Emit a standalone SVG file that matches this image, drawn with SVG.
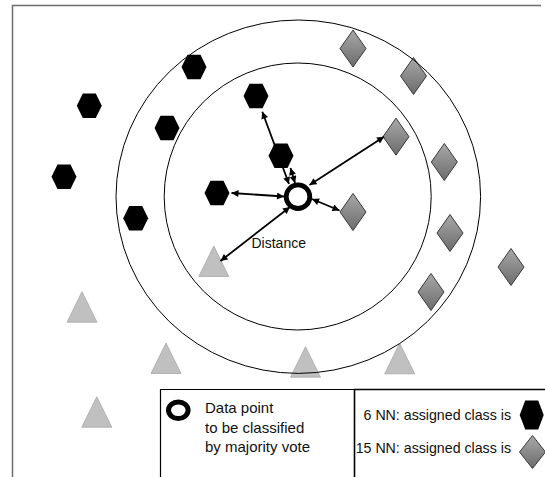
<svg xmlns="http://www.w3.org/2000/svg" xmlns:xlink="http://www.w3.org/1999/xlink" width="545" height="477" viewBox="0 0 545 477">
  <style>
    .frame { fill: none; stroke: #6e6e6e; stroke-width: 1.5; }
    .box { fill: none; stroke: #000; stroke-width: 1.2; }
    .ring { fill: none; stroke: #000; stroke-width: 1; }
    .hex { fill: #000; }
    .dia { fill: url(#diaFill); stroke: #3a3a3a; stroke-width: 1; }
    .tri { fill: #c0c0c0; stroke: #a8a8a8; stroke-width: 0.8; }
    .edge { fill: none; stroke: #000; stroke-width: 1.8; marker-start: url(#tip); marker-end: url(#tip); }
    .query { fill: #fff; stroke: #000; stroke-width: 4.8; }
    text { font-family: "Liberation Sans", Arial, sans-serif; fill: #111; }
    .lbl { font-size: 14px; }
    .leg { font-size: 15px; }
    .leg-r { font-size: 14.2px; }
  </style>
  <defs>
    <linearGradient id="diaFill" x1="0" y1="0" x2="0" y2="1">
      <stop offset="0" stop-color="#a8a8a8"/>
      <stop offset="1" stop-color="#6c6c6c"/>
    </linearGradient>
    <marker id="tip" viewBox="0 0 10 10" refX="10" refY="5" markerUnits="userSpaceOnUse" markerWidth="8" markerHeight="7" orient="auto-start-reverse">
      <path d="M0,0 L10,5 L0,10 z" fill="#000"/>
    </marker>
    <polygon id="hexShape" points="-12.5,0 -6.5,-12.25 6.5,-12.25 12.5,0 6.5,12.25 -6.5,12.25"/>
    <polygon id="diaShape" points="0,-18.5 13,0 0,18.5 -13,0"/>
    <polygon id="triShape" points="0,0 15,30.5 -15,30.5"/>
  </defs>

  <!-- outer frame (top and left edges only) -->
  <path class="frame" d="M12.5,477 V5.5 H541"/>

  <!-- class A: black hexagons -->
  <g id="hex-1" class="hex"><use xlink:href="#hexShape" x="194" y="67"/></g>
  <g id="hex-2" class="hex"><use xlink:href="#hexShape" x="89.3" y="105.7"/></g>
  <g id="hex-3" class="hex"><use xlink:href="#hexShape" x="256" y="96"/></g>
  <g id="hex-4" class="hex"><use xlink:href="#hexShape" x="167" y="128"/></g>
  <g id="hex-6" class="hex"><use xlink:href="#hexShape" x="64" y="176.7"/></g>
  <g id="hex-7" class="hex"><use xlink:href="#hexShape" x="217" y="193"/></g>
  <g id="hex-8" class="hex"><use xlink:href="#hexShape" x="135.7" y="218.3"/></g>

  <!-- class B: grey diamonds -->
  <g id="dia-1" class="dia"><use xlink:href="#diaShape" x="353" y="48.5"/></g>
  <g id="dia-2" class="dia"><use xlink:href="#diaShape" x="413.5" y="76"/></g>
  <g id="dia-3" class="dia"><use xlink:href="#diaShape" x="396" y="136.7"/></g>
  <g id="dia-4" class="dia"><use xlink:href="#diaShape" x="444.3" y="162"/></g>
  <g id="dia-5" class="dia"><use xlink:href="#diaShape" x="353" y="212"/></g>
  <g id="dia-6" class="dia"><use xlink:href="#diaShape" x="450" y="233"/></g>
  <g id="dia-7" class="dia"><use xlink:href="#diaShape" x="511" y="267"/></g>
  <g id="dia-8" class="dia"><use xlink:href="#diaShape" x="431" y="292"/></g>

  <!-- class C: light triangles -->
  <g id="tri-1" class="tri"><use xlink:href="#triShape" x="213.8" y="246"/></g>
  <g id="tri-2" class="tri"><use xlink:href="#triShape" x="82" y="291.7"/></g>
  <g id="tri-3" class="tri"><use xlink:href="#triShape" x="166" y="343"/></g>
  <g id="tri-4" class="tri"><use xlink:href="#triShape" x="305.5" y="346.7"/></g>
  <g id="tri-5" class="tri"><use xlink:href="#triShape" x="399.7" y="343.3"/></g>
  <g id="tri-6" class="tri"><use xlink:href="#triShape" x="96.8" y="396.7"/></g>

  <!-- neighbourhood radii -->
  <g id="radii">
    <ellipse class="ring" cx="298.3" cy="196.7" rx="182.3" ry="176.7"/>
    <circle class="ring" cx="297.7" cy="196.5" r="133.5"/>
  </g>

  <!-- distance connectors -->
  <g id="connectors">
    <line class="edge" x1="284" y1="196.5" x2="231.5" y2="193"/>
    <line class="edge" x1="289" y1="184" x2="262.3" y2="111.7"/>
    <line class="edge" x1="295" y1="183" x2="290.5" y2="168"/>
    <line class="edge" x1="309.5" y1="185" x2="384" y2="136.7"/>
    <line class="edge" x1="312" y1="199" x2="339.5" y2="210.5"/>
    <line class="edge" x1="290" y1="207" x2="220.5" y2="261"/>
  </g>

  <!-- hexagon sitting over the connector to hex-3 -->
  <g id="hex-5" class="hex"><use xlink:href="#hexShape" x="281" y="155.7"/></g>

  <!-- query point -->
  <g id="query"><circle class="query" cx="298" cy="196.7" r="11.8"/></g>

  <text id="distance-label" class="lbl" x="251.5" y="248.3">Distance</text>

  <!-- legend -->
  <g id="legend-query">
    <path class="box" d="M160.5,477 V389.5 H354"/>
    <ellipse cx="178.3" cy="410.3" rx="9.8" ry="8.3" fill="none" stroke="#000" stroke-width="5"/>
    <text class="leg" x="205" y="413.3">Data point</text>
    <text class="leg" x="205" y="433.3">to be classified</text>
    <text class="leg" x="205" y="452">by majority vote</text>
  </g>
  <g id="legend-result">
    <path d="M354.5,477 V389.5 H545" fill="none" stroke="#000" stroke-width="1.6"/>
    <text class="leg-r" x="511" y="420" text-anchor="end">6 NN: assigned class is</text>
    <polygon class="hex" points="519.7,415 525.2,400.5 538.2,400.5 543.7,415 538.2,429.5 525.2,429.5"/>
    <text class="leg-r" x="511" y="453.3" text-anchor="end">15 NN: assigned class is</text>
    <polygon class="dia" points="532.5,435.5 545.5,452 532.5,468.5 519.5,452"/>
  </g>
</svg>
